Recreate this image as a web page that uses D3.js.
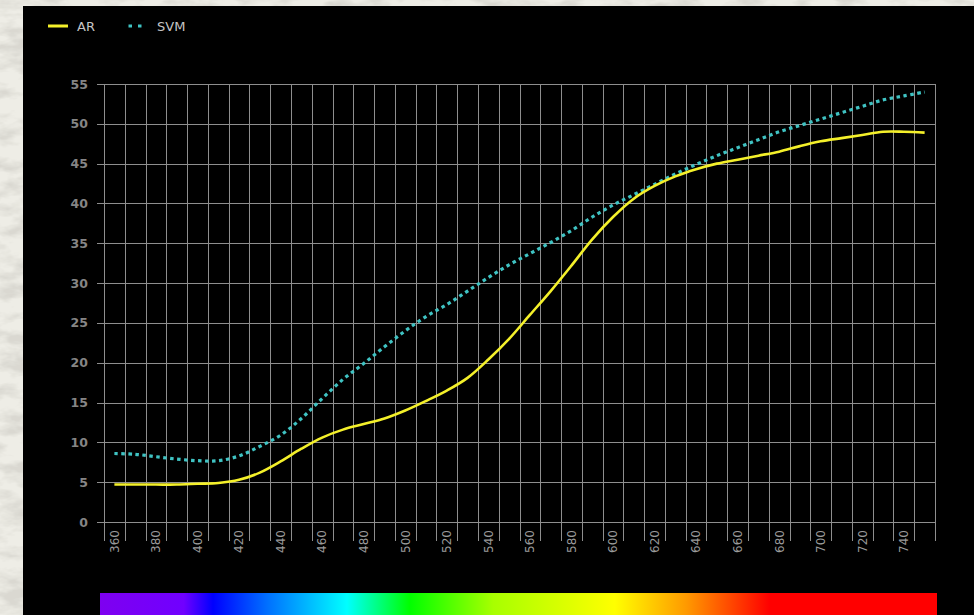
<!DOCTYPE html>
<html>
<head>
<meta charset="utf-8">
<script src="https://cdn.jsdelivr.net/npm/d3@7"></script>
<style>
  html, body { margin: 0; padding: 0; background: #e6e4da; }
  svg { display: block; }
</style>
</head>
<body>
<svg id="chart" width="974" height="615"></svg>
<script>
// ---- data ----
const wavelengths = [360,370,380,390,400,410,420,430,440,450,460,470,480,490,500,510,520,530,540,550,
                     560,570,580,590,600,610,620,630,640,650,660,670,680,690,700,710,720,730,740,750];
const arValues = [4.7,4.7,4.7,4.7,4.8,4.9,5.3,6.2,7.6,9.2,10.6,11.6,12.3,13.0,14.0,15.2,16.5,18.1,20.4,23.0,
                  26.0,29.0,32.2,35.5,38.3,40.6,42.2,43.4,44.3,45.0,45.5,46.0,46.5,47.2,47.8,48.2,48.6,49.0,49.0,48.9];
const svmValues = [8.6,8.5,8.2,7.9,7.7,7.7,8.3,9.5,10.9,13.0,15.5,17.9,19.9,22.0,24.0,25.8,27.3,29.0,30.7,32.3,
                   33.7,35.1,36.6,38.3,39.8,41.1,42.4,43.7,44.9,46.0,47.0,48.0,49.0,49.8,50.6,51.4,52.2,53.0,53.5,54.0];
const xTickLabels = ["360","380","400","420","440","460","480","500","520","540","560","580","600","620","640","660","680","700","720","740"];
const yTickValues = [0,5,10,15,20,25,30,35,40,45,50,55];
const seriesNames = ["AR","SVM"];
const spectrumStops = [
  [0.00,"#7e00f0"],[0.10,"#7000ff"],[0.135,"#0000ff"],[0.20,"#0070ff"],[0.295,"#00ffff"],
  [0.37,"#00ff00"],[0.47,"#a8ff00"],[0.615,"#ffff00"],[0.70,"#ff9a00"],[0.80,"#ff0000"],[1.00,"#ff0000"]
];

// ---- layout ----
const svg = d3.select("#chart");
const W = 974, H = 615;
const defs = svg.append("defs");

// textured paper background
const f = defs.append("filter").attr("id","paper").attr("x",0).attr("y",0).attr("width","100%").attr("height","100%");
f.append("feTurbulence").attr("type","fractalNoise").attr("baseFrequency","0.03 0.07").attr("numOctaves",4).attr("seed",5).attr("result","n");
f.append("feColorMatrix").attr("in","n").attr("type","matrix")
  .attr("values","0 0 0 0 0.70  0 0 0 0 0.69  0 0 0 0 0.64  0 0 0 -3 1.75").attr("result","c");
f.append("feComposite").attr("in","c").attr("in2","SourceGraphic").attr("operator","over");
svg.append("rect").attr("width",W).attr("height",H).attr("fill","#eeede6").attr("filter","url(#paper)");

// black panel
svg.append("rect").attr("x",23).attr("y",6).attr("width",W-23).attr("height",H-6).attr("fill","#000");

const x = d3.scaleBand().domain(wavelengths).range([104,935]).padding(0);
const y = d3.scaleLinear().domain([0,55]).range([522,84]);
const cx = d => x(d) + x.bandwidth()/2;

const grid = svg.append("g").attr("stroke","#8e8e8e").attr("stroke-width",1).attr("shape-rendering","crispEdges");
grid.selectAll("line.h").data(yTickValues).join("line")
  .attr("x1",97).attr("x2",935).attr("y1",d=>Math.round(y(d))+0.5).attr("y2",d=>Math.round(y(d))+0.5);
const bounds = wavelengths.map(w=>x(w)).concat([x(wavelengths[wavelengths.length-1])+x.bandwidth()]);
grid.selectAll("line.v").data(bounds).join("line")
  .attr("x1",d=>Math.round(d)+0.5).attr("x2",d=>Math.round(d)+0.5).attr("y1",84).attr("y2",541);

// y labels
svg.append("g").selectAll("text").data(yTickValues).join("text")
  .attr("x",88).attr("y",d=>y(d)).attr("dy","0.36em").attr("text-anchor","end")
  .attr("font-family","DejaVu Sans, Verdana, sans-serif").attr("font-size",12.5).attr("font-weight","bold")
  .attr("fill","#858585").text(d=>d);

// x labels (rotated)
svg.append("g").selectAll("text").data(xTickLabels).join("text")
  .attr("transform",d=>`translate(${cx(+d)},530) rotate(-90)`)
  .attr("text-anchor","end").attr("dy","0.36em")
  .attr("font-family","DejaVu Sans, Verdana, sans-serif").attr("font-size",12)
  .attr("fill","#9a9a9a").text(d=>d);

// lines
const line = d3.line().x((d,i)=>cx(wavelengths[i])).y(d=>y(d)).curve(d3.curveCatmullRom.alpha(0.5));
svg.append("path").datum(svmValues).attr("d",line).attr("fill","none")
  .attr("stroke","#3fc3c3").attr("stroke-width",3.2).attr("stroke-dasharray","3.5,3.5");
svg.append("path").datum(arValues).attr("d",line).attr("fill","none")
  .attr("stroke","#f4f02a").attr("stroke-width",2.6).attr("stroke-linejoin","round");

// legend
const lg = svg.append("g");
lg.append("line").attr("x1",48).attr("x2",68).attr("y1",26).attr("y2",26).attr("stroke","#f4f02a").attr("stroke-width",3);
lg.append("text").attr("x",77).attr("y",31).attr("font-family","DejaVu Sans, Verdana, sans-serif").attr("font-size",13)
  .attr("fill","#c4c4c4").text(seriesNames[0]);
lg.append("line").attr("x1",128.5).attr("x2",142).attr("y1",26).attr("y2",26).attr("stroke","#3fc3c3").attr("stroke-width",3.2).attr("stroke-dasharray","3.5,6");
lg.append("text").attr("x",157).attr("y",31).attr("font-family","DejaVu Sans, Verdana, sans-serif").attr("font-size",13)
  .attr("fill","#c4c4c4").text(seriesNames[1]);

// spectrum bar
const grad = defs.append("linearGradient").attr("id","spec").attr("x1","0%").attr("x2","100%").attr("y1","0%").attr("y2","0%");
grad.selectAll("stop").data(spectrumStops).join("stop").attr("offset",d=>d[0]).attr("stop-color",d=>d[1]);
svg.append("rect").attr("x",100).attr("y",593).attr("width",837).attr("height",H-593).attr("fill","url(#spec)");
</script>
</body>
</html>
